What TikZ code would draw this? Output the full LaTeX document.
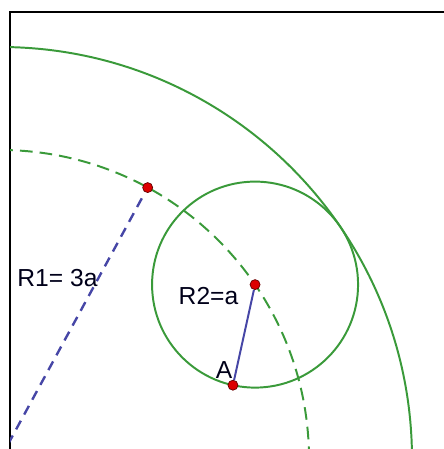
\documentclass[tikz,border=0pt]{standalone}
\usepackage{fontspec}
\setmainfont{Liberation Sans}
\usepackage{tikz}
\definecolor{circgreen}{HTML}{3A9A3A}
\definecolor{radblue}{HTML}{4646A6}
\definecolor{ptred}{HTML}{DD0000}

\begin{document}
\begin{tikzpicture}[x=0.025cm, y=0.025cm,
  circ/.style={circgreen, line width=1.4pt},
  rad/.style={radblue, line width=1.4pt},
  pt/.style={circle, fill=ptred, draw=black!60!red, line width=0.5pt, inner sep=0pt, minimum size=0.25cm},
  lbl/.style={inner sep=0pt, font=\fontsize{17.5}{20}\selectfont, text=black!90!blue}]

\useasboundingbox (0,10) rectangle (444,459);

% frame
\draw[line width=1pt] (10,10) -- (10,447) -- (444,447);

% centres: O outside the frame, C on the dashed circle
\coordinate (O) at (0,0);
\coordinate (P) at (61.45:309);
\coordinate (C) at (34.36:309);
\coordinate (A) at ([shift={(257.6:103)}]C);

\begin{scope}
\clip (10,10) rectangle (444,447);
% R = 4a, 3a (dashed) and the small circle a
\draw[circ] (O) circle (412);
\draw[circ, dash pattern=on 9pt off 5pt] (O) circle (309);
\draw[circ] (C) circle (103);
\end{scope}

% points
\node[pt] (pdot) at (P) {};
\node[pt] (cdot) at (C) {};
\node[pt] (adot) at (A) {};

% radii
\begin{scope}
\clip (10,10) rectangle (444,447);
\draw[rad, line width=1.7pt, dash pattern=on 7pt off 5pt] (O) -- (pdot);
\end{scope}
\draw[rad] (cdot) -- (adot);

% labels
\node[lbl] (r1) at (57.5,181) {R1= 3a};
\node[lbl] (r2) at (208.5,163) {R2=a};
\node[lbl] (alab) at (224,89) {A};

\end{tikzpicture}
\end{document}
